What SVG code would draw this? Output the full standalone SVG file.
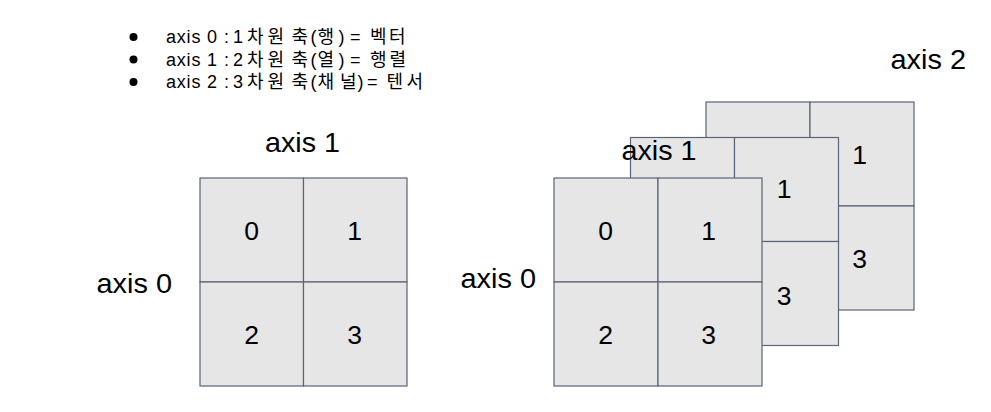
<svg xmlns="http://www.w3.org/2000/svg" width="991" height="412" viewBox="0 0 991 412">
<style>
.cell{fill:#e6e6e6;stroke:#5b6577;stroke-width:1.2}
.num{font-family:"Liberation Sans",Arial,sans-serif;font-size:26.5px;fill:#000;text-anchor:middle}
.lbl{font-family:"Liberation Sans",Arial,sans-serif;font-size:28px;fill:#000}
.bul{font-family:"Liberation Sans","Noto Sans CJK KR",sans-serif;font-size:18px;fill:#000}
.ax{letter-spacing:0.8px}
</style>
<rect width="991" height="412" fill="#fff"/>
<g id="legend">
<circle cx="133.5" cy="37" r="4" fill="#000"/>
<circle cx="133.5" cy="59.5" r="4" fill="#000"/>
<circle cx="133.5" cy="82" r="4" fill="#000"/>
<text class="bul" y="43"><tspan class="ax" x="166">axis 0</tspan><tspan x="224">:</tspan><tspan x="233">1</tspan><tspan x="247">차</tspan><tspan x="267.5">원</tspan><tspan x="291.5">축</tspan><tspan x="310.5">(</tspan><tspan x="317.5">행</tspan><tspan x="338.5">)</tspan><tspan x="350">=</tspan><tspan x="370">벡</tspan><tspan x="389">터</tspan></text>
<text class="bul" y="65.5"><tspan class="ax" x="166">axis 1</tspan><tspan x="224">:</tspan><tspan x="233">2</tspan><tspan x="247">차</tspan><tspan x="267.5">원</tspan><tspan x="291.5">축</tspan><tspan x="310.5">(</tspan><tspan x="317.5">열</tspan><tspan x="338.5">)</tspan><tspan x="350">=</tspan><tspan x="370">행</tspan><tspan x="389.5">렬</tspan></text>
<text class="bul" y="88"><tspan class="ax" x="166">axis 2</tspan><tspan x="224">:</tspan><tspan x="233">3</tspan><tspan x="247">차</tspan><tspan x="267.5">원</tspan><tspan x="291.5">축</tspan><tspan x="310.5">(</tspan><tspan x="317.5">채</tspan><tspan x="340">널</tspan><tspan x="357.5">)</tspan><tspan x="367">=</tspan><tspan x="386.5">텐</tspan><tspan x="406.5">서</tspan></text>
</g>
<g id="matrix">
<rect class="cell" x="200" y="178" width="103.5" height="104"/>
<rect class="cell" x="303.5" y="178" width="103.5" height="104"/>
<rect class="cell" x="200" y="282" width="103.5" height="104"/>
<rect class="cell" x="303.5" y="282" width="103.5" height="104"/>
<text class="num" x="251.5" y="239.5">0</text>
<text class="num" x="354.5" y="239.5">1</text>
<text class="num" x="251.5" y="343.5">2</text>
<text class="num" x="354.5" y="343.5">3</text>
</g>
<text id="label-axis1-left" class="lbl" x="265" y="152" textLength="75" lengthAdjust="spacingAndGlyphs">axis 1</text>
<text id="label-axis0-left" class="lbl" x="96.5" y="293" textLength="75.5" lengthAdjust="spacingAndGlyphs">axis 0</text>
<text id="label-axis2" class="lbl" x="890.5" y="69" textLength="75.5" lengthAdjust="spacingAndGlyphs">axis 2</text>
<text id="label-axis0-right" class="lbl" x="460.5" y="288" textLength="75.5" lengthAdjust="spacingAndGlyphs">axis 0</text>
<g id="tensor-back">
<rect class="cell" x="706" y="102" width="104" height="104"/>
<rect class="cell" x="810" y="102" width="104" height="104"/>
<rect class="cell" x="706" y="206" width="104" height="104"/>
<rect class="cell" x="810" y="206" width="104" height="104"/>
<text class="num" x="859.5" y="163.5">1</text>
<text class="num" x="859.5" y="267.5">3</text>
</g>
<g id="tensor-middle">
<rect class="cell" x="630.5" y="137.5" width="104" height="104"/>
<rect class="cell" x="734.5" y="137.5" width="104" height="104"/>
<rect class="cell" x="630.5" y="241.5" width="104" height="104"/>
<rect class="cell" x="734.5" y="241.5" width="104" height="104"/>
<text class="num" x="682.5" y="199">0</text>
<text class="num" x="784" y="198">1</text>
<text class="num" x="784" y="305">3</text>
</g>
<text id="label-axis1-right" class="lbl" x="621.5" y="160" textLength="75" lengthAdjust="spacingAndGlyphs">axis 1</text>
<g id="tensor-front">
<rect class="cell" x="554" y="178" width="104" height="104"/>
<rect class="cell" x="658" y="178" width="104" height="104"/>
<rect class="cell" x="554" y="282" width="104" height="104"/>
<rect class="cell" x="658" y="282" width="104" height="104"/>
<text class="num" x="605.5" y="239.5">0</text>
<text class="num" x="708.5" y="239.5">1</text>
<text class="num" x="605.5" y="343.5">2</text>
<text class="num" x="708.5" y="343.5">3</text>
</g>
<g id="connectors"/>
</svg>
